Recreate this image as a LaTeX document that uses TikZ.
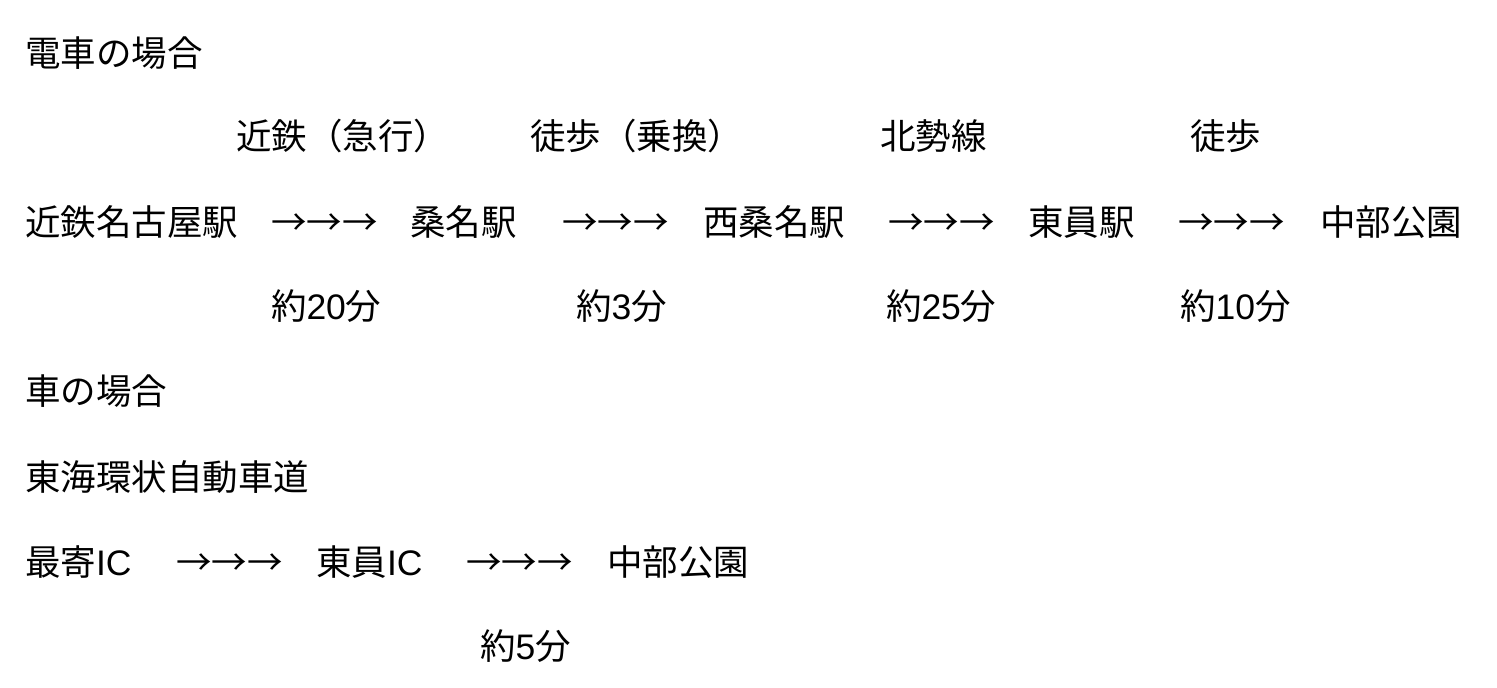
\documentclass[tikz,border=0pt]{standalone}
\usepackage{fontspec}
\setmainfont{Liberation Sans}
\newfontfamily\cjk{Noto Sans CJK JP}
\begin{document}
\begin{tikzpicture}[x=1pt,y=-1pt,
  txt/.style={anchor=base west,inner sep=0pt,outer sep=0pt,font=\fontsize{35.5}{40}\selectfont}]
\useasboundingbox[fill=white] (0,0) rectangle (1497,688);
% train
\node[txt] (h1) at (25,66) {\cjk 電車の場合};
\node[txt] (l1) at (236,149) {\cjk 近鉄（急行）};
\node[txt] (l2) at (530,149) {\cjk 徒歩（乗換）};
\node[txt] (l3) at (880,149) {\cjk 北勢線};
\node[txt] (l4) at (1190,149) {\cjk 徒歩};
\node[txt] (s1) at (25,235) {\cjk 近鉄名古屋駅};
\node[txt] (a1) at (271,235) {\cjk →→→};
\node[txt] (s2) at (410,235) {\cjk 桑名駅};
\node[txt] (a2) at (562,235) {\cjk →→→};
\node[txt] (s3) at (703,235) {\cjk 西桑名駅};
\node[txt] (a3) at (888,235) {\cjk →→→};
\node[txt] (s4) at (1028,235) {\cjk 東員駅};
\node[txt] (a4) at (1178,235) {\cjk →→→};
\node[txt] (s5) at (1320,235) {\cjk 中部公園};
\node[txt] (t1) at (271,319) {{\cjk 約}20{\cjk 分}};
\node[txt] (t2) at (576,319) {{\cjk 約}3{\cjk 分}};
\node[txt] (t3) at (886,319) {{\cjk 約}25{\cjk 分}};
\node[txt] (t4) at (1180,319) {{\cjk 約}10{\cjk 分}};
% car
\node[txt] (h2) at (25,404) {\cjk 車の場合};
\node[txt] (h3) at (25,490) {\cjk 東海環状自動車道};
\node[txt] (c1) at (25,575) {{\cjk 最寄}IC};
\node[txt] (b1) at (176,575) {\cjk →→→};
\node[txt] (c2) at (316,575) {{\cjk 東員}IC};
\node[txt] (b2) at (466,575) {\cjk →→→};
\node[txt] (c3) at (607,575) {\cjk 中部公園};
\node[txt] (t5) at (480,659) {{\cjk 約}5{\cjk 分}};
\end{tikzpicture}
\end{document}
